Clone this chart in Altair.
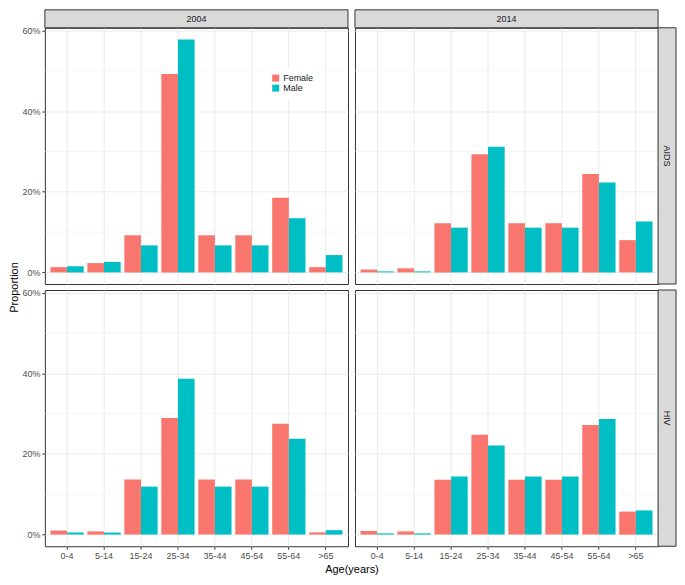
import altair as alt
import pandas as pd

ages = ["0-4", "5-14", "15-24", "25-34", "35-44", "45-54", "55-64", ">65"]
sexes = ["Female", "Male"]
sex_colors = ["#F8766D", "#00BFC4"]

# proportions in percent
aids_2004_female = [1.3, 2.3, 9.2, 49.2, 9.2, 9.2, 18.5, 1.3]
aids_2004_male = [1.5, 2.6, 6.7, 57.8, 6.7, 6.7, 13.4, 4.3]
aids_2014_female = [0.7, 1.0, 12.2, 29.3, 12.2, 12.2, 24.4, 8.0]
aids_2014_male = [0.25, 0.25, 11.1, 31.2, 11.1, 11.1, 22.3, 12.6]
hiv_2004_female = [1.0, 0.8, 13.7, 28.9, 13.7, 13.7, 27.5, 0.55]
hiv_2004_male = [0.5, 0.5, 11.9, 38.7, 11.9, 11.9, 23.8, 1.1]
hiv_2014_female = [0.9, 0.8, 13.6, 24.8, 13.6, 13.6, 27.2, 5.7]
hiv_2014_male = [0.3, 0.3, 14.4, 22.1, 14.4, 14.4, 28.7, 6.0]

y_ticks = [0, 0.2, 0.4, 0.6]
y_minor = [0.1, 0.3, 0.5]
y_domain = [-0.0289, 0.6069]

FONT = "Liberation Sans"
W, H = 304, 257
HGAP, VGAP = 7, 6
STRIP = 18
GRID = "#EBEBEB"


def frame(female, male):
    rows = []
    for a, f, m in zip(ages, female, male):
        rows.append({"age": a, "sex": "Female", "prop": f / 100})
        rows.append({"age": a, "sex": "Male", "prop": m / 100})
    return pd.DataFrame(rows)


def panel(df, col_label, row_label, left, bottom, legend, top_strip, right_strip, ytitle, xtitle):
    ysc = alt.Scale(domain=y_domain, nice=False, zero=False)
    if left:
        yaxis = alt.Axis(values=y_ticks, format=".0%", labelFontSize=9, labelColor="#4D4D4D",
                         tickColor="#333333", tickSize=3, labelPadding=2, domain=False,
                         grid=True, gridColor=GRID, gridWidth=1,
                         title="Proportion" if ytitle else None,
                         titleFontSize=11, titleFontWeight="normal", titleColor="black",
                         titlePadding=2, titleY=H + VGAP / 2, titleAlign="center")
    else:
        yaxis = alt.Axis(values=y_ticks, labels=False, ticks=False, domain=False,
                         grid=True, gridColor=GRID, gridWidth=1, title=None)
    if bottom:
        xaxis = alt.Axis(labelFontSize=9, labelColor="#4D4D4D", labelAngle=0, labelPadding=2,
                         tickColor="#333333", tickSize=3, domain=False, grid=True,
                         gridColor=GRID, gridWidth=1, bandPosition=0.5,
                         title="Age(years)" if xtitle else None,
                         titleFontSize=11, titleFontWeight="normal", titleColor="black",
                         titlePadding=3, titleX=W + HGAP / 2, titleAlign="center")
    else:
        xaxis = alt.Axis(labels=False, ticks=False, domain=False, grid=True,
                         gridColor=GRID, gridWidth=1, bandPosition=0.5, title=None)
    if legend:
        leg = alt.Legend(title=None, orient="none", legendX=222, legendY=41,
                         symbolType="square", symbolSize=49, symbolStrokeWidth=0,
                         labelFontSize=9, labelColor="#1A1A1A", labelFont=FONT,
                         fillColor="white", padding=5, rowPadding=0, labelOffset=3)
    else:
        leg = None

    minor = alt.Chart(pd.DataFrame({"m": y_minor})).mark_rule(
        color=GRID, strokeWidth=0.5).encode(y=alt.Y("m:Q", scale=ysc, axis=yaxis))

    color_kw = dict(scale=alt.Scale(domain=sexes, range=sex_colors))
    if leg is not None:
        color = alt.Color("sex:N", legend=leg, **color_kw)
    else:
        color = alt.Color("sex:N", legend=None, **color_kw)

    bars = alt.Chart(df).mark_bar().encode(
        x=alt.X("age:N", sort=ages, scale=alt.Scale(paddingInner=0.1, paddingOuter=0.15), axis=xaxis),
        xOffset=alt.XOffset("sex:N", sort=sexes),
        y=alt.Y("prop:Q", scale=ysc, axis=yaxis),
        color=color,
    )
    layers = [minor, bars]
    if top_strip:
        sd = pd.DataFrame({"t": [col_label]})
        layers.append(alt.Chart(sd).mark_rect(fill="#D9D9D9", stroke="#333333", strokeWidth=1).encode(
            x=alt.value(0), x2=alt.value(W), y=alt.value(-STRIP), y2=alt.value(0)))
        layers.append(alt.Chart(sd).mark_text(fontSize=9, color="#1A1A1A", font=FONT, fontWeight="normal",
                                              baseline="middle", align="center").encode(
            x=alt.value(W / 2), y=alt.value(-STRIP / 2), text="t:N"))
    if right_strip:
        sd = pd.DataFrame({"t": [row_label]})
        layers.append(alt.Chart(sd).mark_rect(fill="#D9D9D9", stroke="#333333", strokeWidth=1).encode(
            x=alt.value(W), x2=alt.value(W + STRIP), y=alt.value(0), y2=alt.value(H)))
        layers.append(alt.Chart(sd).mark_text(fontSize=9, color="#1A1A1A", font=FONT, fontWeight="normal",
                                              angle=90, baseline="middle", align="center").encode(
            x=alt.value(W + STRIP / 2), y=alt.value(H / 2), text="t:N"))
    return alt.layer(*layers).properties(width=W, height=H)


p11 = panel(frame(aids_2004_female, aids_2004_male), "2004", "AIDS", True, False, True, True, False, True, False)
p12 = panel(frame(aids_2014_female, aids_2014_male), "2014", "AIDS", False, False, False, True, True, False, False)
p21 = panel(frame(hiv_2004_female, hiv_2004_male), "2004", "HIV", True, True, False, False, False, False, True)
p22 = panel(frame(hiv_2014_female, hiv_2014_male), "2014", "HIV", False, True, False, False, True, False, False)

chart = alt.concat(p11, p12, p21, p22, columns=2, spacing=alt.RowColnumber(row=VGAP, column=HGAP),
                   bounds="flush").resolve_scale(color="independent").properties(
    padding=0
).configure(font=FONT).configure_view(stroke="#333333", strokeWidth=1)

chart.save("out.html", embed_options={"renderer": "svg", "actions": False})
